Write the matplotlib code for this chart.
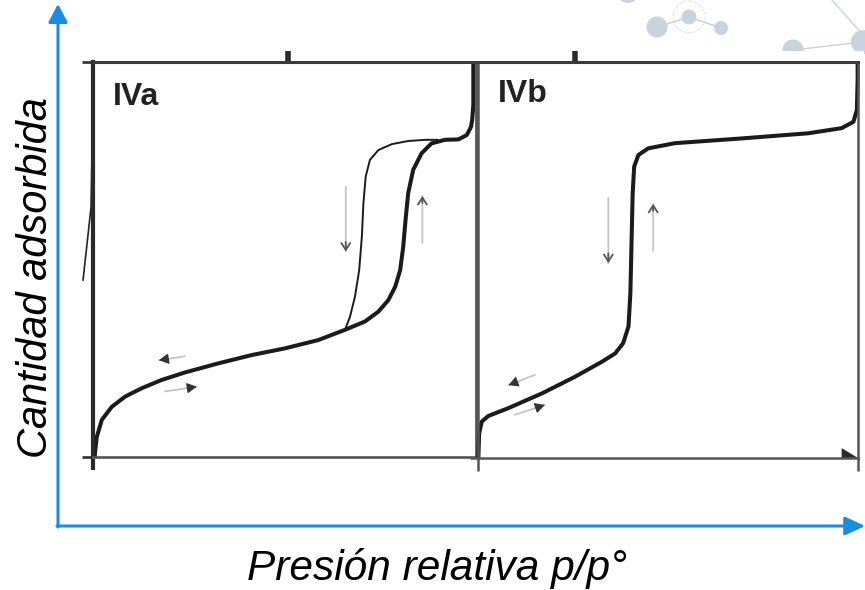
import matplotlib.pyplot as plt
from matplotlib.patches import Circle, Rectangle

plt.rcParams['font.family'] = ['Liberation Sans', 'DejaVu Sans']

# IVa: adsorption (thick) and desorption (thin) branches, p/p0 vs amount (0-1)
ads_a_x = [0.005, 0.005, 0.010, 0.023, 0.049, 0.084, 0.127, 0.179, 0.240, 0.327,
           0.414, 0.501, 0.588, 0.658, 0.710, 0.745, 0.771, 0.789, 0.802, 0.810,
           0.816, 0.823, 0.836, 0.858, 0.884, 0.919, 0.954, 0.976, 0.987, 0.990,
           0.993, 0.993]
ads_a_y = [0.0, 0.010, 0.051, 0.094, 0.127, 0.153, 0.174, 0.195, 0.214, 0.237,
           0.258, 0.275, 0.296, 0.322, 0.343, 0.368, 0.397, 0.431, 0.473, 0.532,
           0.600, 0.668, 0.727, 0.769, 0.794, 0.803, 0.804, 0.815, 0.836, 0.853,
           0.891, 1.0]
des_a_x = [0.658, 0.671, 0.684, 0.695, 0.702, 0.706, 0.712, 0.723, 0.745, 0.780,
           0.823, 0.867, 0.902]
des_a_y = [0.322, 0.355, 0.406, 0.473, 0.558, 0.642, 0.710, 0.752, 0.777, 0.792,
           0.800, 0.803, 0.803]
# remnant of the neighbouring panel's curve, left of IVa
rem_x = [-0.026, -0.005, -0.003]
rem_y = [0.448, 0.633, 0.75]

# IVb: single reversible curve
iso_b_x = [0.001, 0.003, 0.010, 0.027, 0.080, 0.168, 0.255, 0.326, 0.361, 0.382,
           0.396, 0.401, 0.404, 0.407, 0.411, 0.422, 0.448, 0.518, 0.694, 0.869,
           0.957, 0.988, 0.997, 0.999, 0.999]
iso_b_y = [0.0, 0.062, 0.092, 0.106, 0.126, 0.163, 0.205, 0.243, 0.264, 0.290,
           0.332, 0.416, 0.542, 0.668, 0.736, 0.765, 0.782, 0.795, 0.807, 0.820,
           0.833, 0.849, 0.879, 0.955, 1.0]

# direction arrows: (x_start, y_start, x_end, y_end)
vert_a = [(0.660, 0.684, 0.660, 0.520), (0.860, 0.542, 0.860, 0.661)]
small_a = [(0.240, 0.255, 0.172, 0.245), (0.188, 0.166, 0.271, 0.178)]
vert_b = [(0.343, 0.657, 0.343, 0.492), (0.461, 0.523, 0.461, 0.642)]
small_b = [(0.150, 0.210, 0.080, 0.184), (0.097, 0.109, 0.176, 0.134)]

labels = ['IVa', 'IVb']
xlabel = 'Presión relativa p/p°'
ylabel = 'Cantidad adsorbida'

blue = '#1a8de3'
deco = '#c9d3dc'

fig = plt.figure(figsize=(8.65, 5.90), dpi=100)

# background layer in pixel coordinates
bg = fig.add_axes([0, 0, 1, 1])
bg.set_xlim(0, 865)
bg.set_ylim(590, 0)
bg.axis('off')

# decorative molecules in the corner
for cx, cy, r in [(628, -8, 11), (657, 27, 10.5), (689, 17, 7.5), (721, 28, 7),
                  (793, 50, 10.5), (863, 42, 12)]:
    bg.add_patch(Circle((cx, cy), r, color=deco, lw=0, zorder=1))
bg.add_patch(Circle((689, 17), 16, fill=False, ec=deco, lw=0.8, ls=':', zorder=1))
bg.plot([657, 689, 721], [27, 17, 28], color=deco, lw=1.2, zorder=1)
bg.plot([793, 863], [50, 42], color=deco, lw=1.0, zorder=1)
bg.plot([832, 863], [0, 35], color=deco, lw=1.0, zorder=1)
bg.add_patch(Rectangle((82, 51), 782, 424, color='white', lw=0, zorder=2))

# blue axis arrows
bg.annotate('', xy=(58, 4), xytext=(58, 527),
            arrowprops=dict(arrowstyle='-|>,head_length=11,head_width=5.8',
                            mutation_scale=1, color=blue, lw=2.2,
                            shrinkA=0, shrinkB=0), zorder=3)
bg.annotate('', xy=(865, 526), xytext=(57, 526),
            arrowprops=dict(arrowstyle='-|>,head_length=12,head_width=5.6',
                            mutation_scale=1, color=blue, lw=2.2,
                            shrinkA=0, shrinkB=0), zorder=3)
bg.text(437, 580, xlabel, fontsize=30.5, style='italic', ha='center',
        va='baseline', color='black', zorder=3)
bg.text(36, 278, ylabel, fontsize=30, style='italic', rotation=90,
        ha='center', va='center', color='black', zorder=3)

axA = fig.add_axes([93 / 865, 133 / 590, 383 / 865, 395 / 590], zorder=5)
axB = fig.add_axes([478 / 865, 132 / 590, 380 / 865, 396 / 590], zorder=5)

for ax in (axA, axB):
    ax.set_xlim(0, 1)
    ax.set_ylim(0, 1)
    ax.patch.set_alpha(0)
    ax.tick_params(labelbottom=False, labelleft=False, labeltop=False,
                   labelright=False)

# panel IVa frame
axA.spines['left'].set(lw=3.0, color='#2a2a2a')
axA.spines['top'].set(lw=2.2, color='#3a3a3a')
axA.spines['bottom'].set(lw=1.9, color='#555555')
axA.spines['right'].set(lw=2.0, color='#555555')
axA.set_xticks([0])
axA.tick_params(axis='x', bottom=True, direction='out', length=9, width=3,
                color='#2a2a2a')
axA.secondary_xaxis('top').set_xticks([0.509], labels=[''])
axA.set_yticks([0, 1])
axA.tick_params(axis='y', left=True, direction='out', length=8, width=2,
                color='#3a3a3a')

# panel IVb frame
for s in ('left', 'bottom', 'right'):
    axB.spines[s].set(lw=1.8, color='#555555')
axB.spines['top'].set(lw=2.2, color='#3a3a3a')
axB.set_xticks([0, 1])
axB.tick_params(axis='x', bottom=True, direction='out', length=9, width=1.8,
                color='#555555')
axB.secondary_xaxis('top').set_xticks([0.255], labels=[''])
axB.set_yticks([0])
axB.tick_params(axis='y', left=True, direction='out', length=6, width=1.8,
                color='#555555')
axB.fill([0.957, 1.0, 0.957], [0.025, 0.0, 0.0], color='#2a2a2a', lw=0,
         clip_on=False)

for ax in (axA, axB):
    for sec in ax.child_axes:
        sec.tick_params(direction='out', length=8, width=4, color='#2a2a2a')
        sec.spines['top'].set_visible(False)

# curves
line_kw = dict(color='#1b1b1b', solid_joinstyle='round', solid_capstyle='butt',
               clip_on=False)
axA.plot(ads_a_x, ads_a_y, lw=2.9, **line_kw)
axA.plot(des_a_x, des_a_y, lw=1.4, **line_kw)
axA.plot(rem_x, rem_y, color='#222222', lw=1.2, clip_on=False)
axB.plot(iso_b_x, iso_b_y, lw=2.9, **line_kw)


def draw_arrows(ax, vert, small):
    for x0, y0, x1, y1 in vert:
        ax.annotate('', xy=(x1, y1), xytext=(x0, y0),
                    arrowprops=dict(arrowstyle='-', color='#c4c4c4', lw=1.3,
                                    shrinkA=0, shrinkB=0))
        ax.annotate('', xy=(x1, y1), xytext=(x0, y1 + (y0 - y1) * 0.15),
                    arrowprops=dict(arrowstyle='->,head_length=5,head_width=3.2',
                                    mutation_scale=1, color='#555555', lw=1.3,
                                    shrinkA=0, shrinkB=0))
    for x0, y0, x1, y1 in small:
        ax.annotate('', xy=(x1, y1), xytext=(x0, y0),
                    arrowprops=dict(arrowstyle='-', color='#c4c4c4', lw=1.3,
                                    shrinkA=0, shrinkB=0))
        ax.annotate('', xy=(x1, y1),
                    xytext=(x1 + (x0 - x1) * 0.3, y1 + (y0 - y1) * 0.3),
                    arrowprops=dict(arrowstyle='-|>,head_length=6,head_width=3.2',
                                    mutation_scale=1, color='#333333', lw=0.8,
                                    shrinkA=0, shrinkB=0))


draw_arrows(axA, vert_a, small_a)
draw_arrows(axB, vert_b, small_b)

axA.text(0.052, 0.891, labels[0], transform=axA.transAxes, fontsize=23,
         fontweight='bold', color='#222222', ha='left', va='baseline')
axB.text(0.053, 0.900, labels[1], transform=axB.transAxes, fontsize=23,
         fontweight='bold', color='#222222', ha='left', va='baseline')

fig.savefig('out.png', dpi=100)
